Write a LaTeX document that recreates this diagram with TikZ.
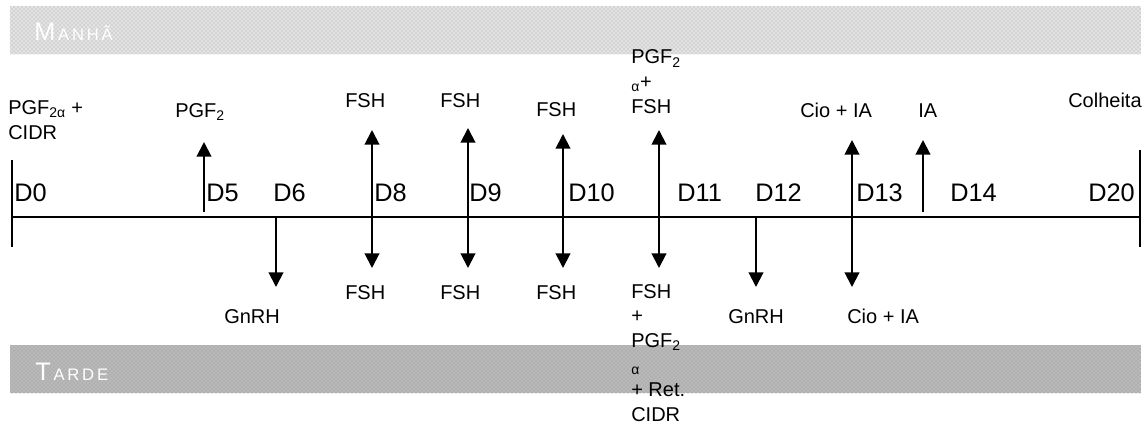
\documentclass[tikz,border=0pt]{standalone}
\usepackage{fontspec}
\setmainfont{Liberation Sans}
\usetikzlibrary{arrows.meta,patterns}

\begin{document}
\begin{tikzpicture}[x=0.75pt,y=-0.75pt,
		up/.style={line width=1.5pt,-{Triangle[length=11pt,width=11pt]}},
		both/.style={line width=1.5pt,{Triangle[length=11pt,width=11pt]}-{Triangle[length=11pt,width=11pt]}},
		axis/.style={line width=1.5pt},
		day/.style={anchor=base west,font=\fontsize{19}{19}\selectfont},
		lbl/.style={anchor=base west,align=left,font=\fontsize{15}{18.4}\selectfont},
		band/.style={draw=none,pattern=crosshatch dots},
		]
		\tikzstyle{every node}=[inner sep=0pt]
		\useasboundingbox (0,0) rectangle (1148,425);
		
		\fill[gray!22] (10,6) rectangle (1141,54);
		\path[band,pattern color=gray!75] (10,6) rectangle (1141,54);
		\fill[gray!55] (10,345) rectangle (1141,393);
		\path[band,pattern color=gray!85] (10,345) rectangle (1141,393);
		\node[anchor=base west,text=white] (morning) at (34,40)
			{{\fontsize{19}{19}\selectfont M}{\fontsize{12.5}{12.5}\selectfont\,A\,N\,H\,Ã}};
		\node[anchor=base west,text=white] (evening) at (35,380)
			{{\fontsize{19}{19}\selectfont T}{\fontsize{12.5}{12.5}\selectfont\,A\,R\,D\,E}};
		
		\coordinate (start) at (12,217);
		\coordinate (end) at (1140,217);
		\draw[axis] (start) -- (end);
		\draw[axis] (12,160) -- (12,247);
		\draw[axis] (1140,150) -- (1140,247);
		
		\node[day] (d0) at (14,201) {D0};
		\node[day] (d5) at (206,201) {D5};
		\node[day] (d6) at (273,201) {D6};
		\node[day] (d8) at (374,201) {D8};
		\node[day] (d9) at (469,201) {D9};
		\node[day] (d10) at (568,201) {D10};
		\node[day] (d11) at (677,201) {D11};
		\node[day] (d12) at (755,201) {D12};
		\node[day] (d13) at (856,201) {D13};
		\node[day] (d14) at (950,201) {D14};
		\node[day] (d20) at (1088,201) {D20};
		
		\coordinate (a5) at (204,212);
		\coordinate (u5) at (204,142);
		\coordinate (a6) at (276,217);
		\coordinate (l6) at (276,287);
		\coordinate (u8) at (372,130);
		\coordinate (l8) at (372,268);
		\coordinate (u9) at (468,128);
		\coordinate (l9) at (468,268);
		\coordinate (u10) at (563,134);
		\coordinate (l10) at (563,268);
		\coordinate (u11) at (659,130);
		\coordinate (l11) at (659,268);
		\coordinate (a12) at (756,217);
		\coordinate (l12) at (756,287);
		\coordinate (u13) at (852,140);
		\coordinate (l13) at (852,287);
		\coordinate (a14) at (923,212);
		\coordinate (u14) at (923,140);
		
		\draw[up] (a5) -- (u5);
		\draw[up] (a6) -- (l6);
		\draw[both] (l8) -- (u8);
		\draw[both] (l9) -- (u9);
		\draw[both] (l10) -- (u10);
		\draw[both] (l11) -- (u11);
		\draw[up] (a12) -- (l12);
		\draw[both] (l13) -- (u13);
		\draw[up] (a14) -- (u14);
		
		\node[lbl] (t0) at (8,139) {PGF\textsubscript{2α} +\\CIDR};
		\node[lbl] (t5) at (175,117) {PGF\textsubscript{2}};
		\node[lbl] (t8) at (345,107) {FSH};
		\node[lbl] (t9) at (440,107) {FSH};
		\node[lbl] (t10) at (536,116) {FSH};
		\node[lbl] (t11) at (631,113) {PGF\textsubscript{2}\\\textsubscript{α}+\\FSH};
		\node[lbl] (t13) at (800,117) {Cio + IA};
		\node[lbl] (t14) at (918,117) {IA};
		\node[lbl] (t20) at (1068,107) {Colheita};
		
		\node[lbl] (b6) at (224,323) {GnRH};
		\node[lbl] (b8) at (345,299) {FSH};
		\node[lbl] (b9) at (440,299) {FSH};
		\node[lbl] (b10) at (536,299) {FSH};
		\node[lbl] (b11) at (631,421) {FSH\\+\\PGF\textsubscript{2}\\\textsubscript{α}\\+ Ret.\\CIDR};
		\node[lbl] (b12) at (728,323) {GnRH};
		\node[lbl] (b13) at (847,323) {Cio + IA};
	\end{tikzpicture}
\end{document}
